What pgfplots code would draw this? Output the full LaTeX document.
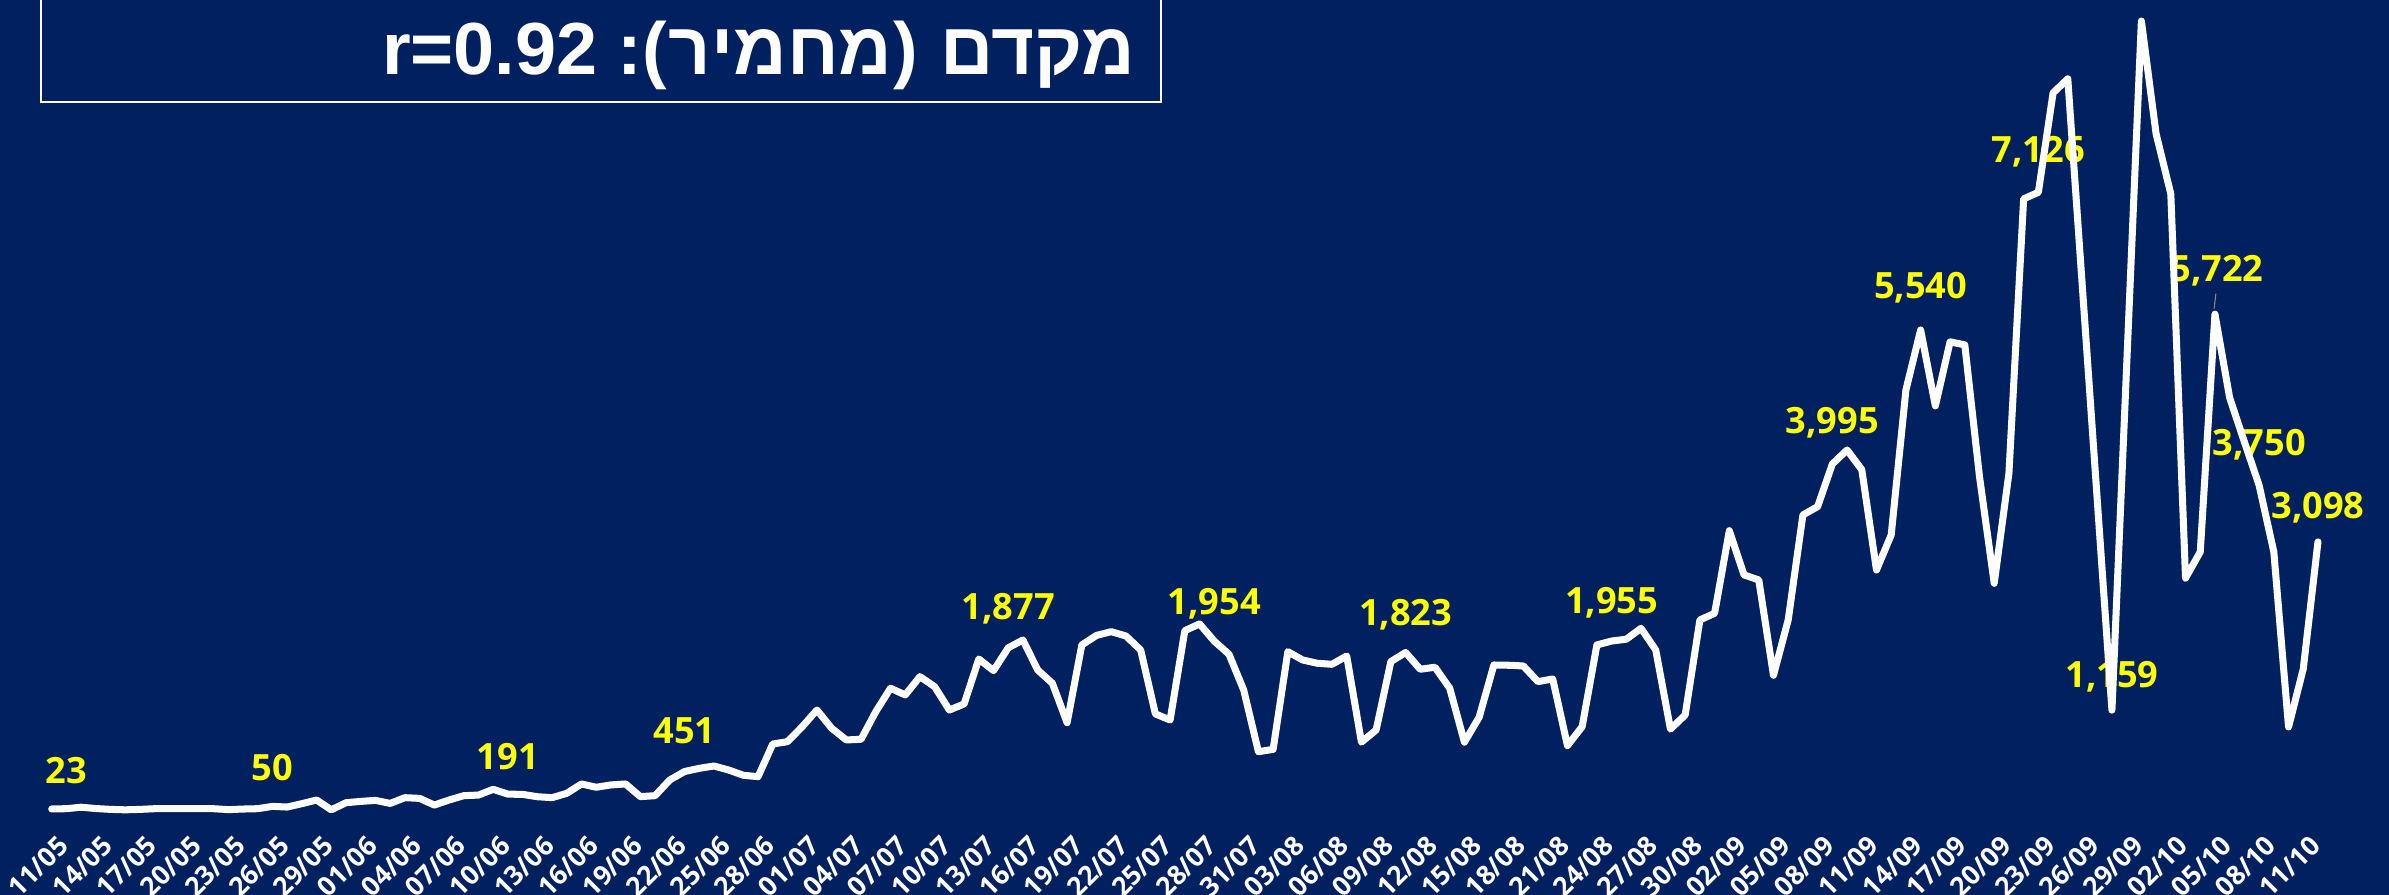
\documentclass[border=0pt]{standalone}
\usepackage{pgfplots}
\pgfplotsset{compat=1.18}
\usepackage{fontspec}
\setmainfont{Open Sans}
\newfontfamily\hebfont[Script=Hebrew]{Liberation Sans}
\newfontfamily\latfont{Liberation Sans}
\TeXXeTstate=1
\definecolor{slidebg}{HTML}{002060}
\definecolor{lblyellow}{HTML}{FFFF00}
\tikzset{
  vlabel/.style={font=\bfseries\fontsize{10.3}{12}\selectfont, text=lblyellow,
    inner sep=0pt, anchor=base},
  ttl/.style={anchor=base east, inner sep=0pt, text=white},
}
\begin{document}
\begin{tikzpicture}
\useasboundingbox (0,0) rectangle (238.9mm,89.5mm);
\clip (0,0) rectangle (238.9mm,89.5mm);
\fill[slidebg] (0,0) rectangle (238.9mm,89.5mm);
% title box, its top runs off the slide
\draw[white, line width=0.7pt] (4.1mm,79.3mm) rectangle (116.1mm,95mm);
% title set right to left as separate pieces
\node[ttl, font=\hebfont\bfseries\fontsize{21}{24}\selectfont] (t1) at (113.6mm,82.0mm)
  {\beginR מקדם\endR};
\node[ttl, font=\latfont\bfseries\fontsize{21}{24}\selectfont] (t2) at ([xshift=-2.06mm]t1.base west) {)};
\node[ttl, font=\hebfont\bfseries\fontsize{21}{24}\selectfont] (t3) at (t2.base west)
  {\beginR מחמיר\endR};
\node[ttl, font=\latfont\bfseries\fontsize{21}{24}\selectfont] (t4) at (t3.base west) {r=0.92 :(};
\begin{axis}[
  x=1.4716mm, y=0.008676mm,
  anchor=origin, at={(5.17mm,8.43mm)},
  xmin=-3, xmax=160, ymin=-314.7, ymax=9400,
  axis line style={draw=none},
  major tick length=0pt,
  ytick=\empty,
  xtick={0,3,...,153},
  xticklabels={11/05,14/05,17/05,20/05,23/05,26/05,29/05,01/06,04/06,07/06,
    10/06,13/06,16/06,19/06,22/06,25/06,28/06,01/07,04/07,07/07,10/07,13/07,
    16/07,19/07,22/07,25/07,28/07,31/07,03/08,06/08,09/08,12/08,15/08,18/08,
    21/08,24/08,27/08,30/08,02/09,05/09,08/09,11/09,14/09,17/09,20/09,23/09,
    26/09,29/09,02/10,05/10,08/10,11/10},
  xticklabel style={rotate=45, anchor=north east, inner sep=0pt, xshift=0.7mm,
    font=\bfseries\fontsize{7.6}{8}\selectfont, text=white},
  clip=false,
]
% value labels (drawn first, the line runs over some of them)
\node[vlabel, yshift=2.5mm] at (axis cs:1,23) {23};
\node[vlabel, yshift=2.6mm] at (axis cs:15,50) {50};
\node[vlabel, yshift=2.5mm] at (axis cs:31,191) {191};
\node[vlabel, yshift=2.8mm] at (axis cs:43,451) {451};
\node[vlabel, yshift=2.8mm] at (axis cs:65,1877) {1,877};
\node[vlabel, yshift=2.7mm] at (axis cs:79,1954) {1,954};
\node[vlabel, yshift=2.7mm] at (axis cs:92,1823) {1,823};
\node[vlabel, yshift=2.8mm] at (axis cs:106,1955) {1,955};
\node[vlabel, yshift=3.1mm] at (axis cs:121,3995) {3,995};
\node[vlabel, yshift=3.1mm] at (axis cs:127,5540) {5,540};
\node[vlabel, yshift=3.0mm] at (axis cs:135,7126) {7,126};
\node[vlabel, yshift=2.3mm] at (axis cs:140,1159) {1,159};
\node[vlabel, yshift=3.3mm, xshift=0.2mm] at (axis cs:147,5722) {5,722};
\draw[black!45, line width=0.3pt] (axis cs:147,5722) ++(0.09mm,2.05mm) -- ++(-0.17mm,-1.5mm);
\node[vlabel, yshift=3.0mm] at (axis cs:150,3750) {3,750};
\node[vlabel, yshift=2.3mm] at (axis cs:154,3098) {3,098};
% daily new cases
\addplot[white, line width=2pt, line join=round, line cap=round, mark=none] coordinates {
(0,20) (1,23) (2,40) (3,25) (4,15) (5,10) (6,15) (7,23) (8,23) (9,23)
(10,23) (11,23) (12,12) (13,19) (14,23) (15,50) (16,42) (17,81) (18,123) (19,10)
(20,92) (21,107) (22,119) (23,84) (24,150) (25,142) (26,65) (27,123) (28,173) (29,180)
(30,246) (31,191) (32,188) (33,161) (34,150) (35,200) (36,308) (37,270) (38,297) (39,308)
(40,162) (41,173) (42,354) (43,451) (44,488) (45,515) (46,469) (47,408) (48,392) (49,769)
(50,795) (51,968) (52,1160) (53,950) (54,815) (55,823) (56,1141) (57,1411) (58,1334) (59,1545)
(60,1429) (61,1160) (62,1230) (63,1748) (64,1614) (65,1877) (66,1967) (67,1622) (68,1468) (69,1014)
(70,1910) (71,2020) (72,2063) (73,2013) (74,1852) (75,1115) (76,1045) (77,2075) (78,2152) (79,1954)
(80,1803) (81,1391) (82,680) (83,707) (84,1833) (85,1737) (86,1699) (87,1687) (88,1783) (89,790)
(90,930) (91,1718) (92,1823) (93,1630) (94,1653) (95,1411) (96,790) (97,1077) (98,1679) (99,1676)
(100,1668) (101,1487) (102,1518) (103,750) (104,968) (105,1910) (106,1955) (107,1976) (108,2102) (109,1852)
(110,940) (111,1103) (112,2198) (113,2275) (114,3227) (115,2717) (116,2659) (117,1560) (118,2198) (119,3408)
(120,3504) (121,3995) (122,4157) (123,3930) (124,2774) (125,3178) (126,4849) (127,5540) (128,4665) (129,5403)
(130,5368) (131,3850) (132,2620) (133,3889) (134,7051) (135,7126) (136,8272) (137,8434) (138,6009) (139,3584)
(140,1159) (141,5130) (142,9100) (143,7800) (144,7108) (145,2680) (146,2982) (147,5722) (148,4757) (149,4250)
(150,3750) (151,2982) (152,965) (153,1633) (154,3098)
};
\end{axis}
\end{tikzpicture}
\end{document}
